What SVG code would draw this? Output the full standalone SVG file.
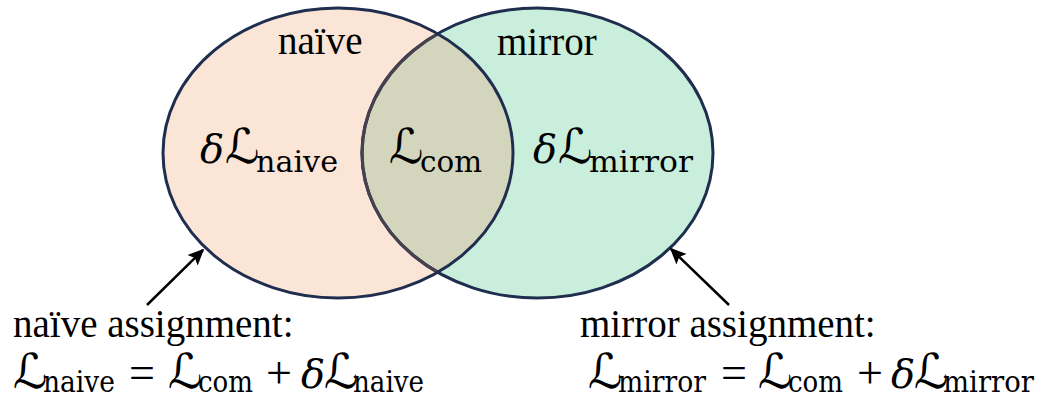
<svg xmlns="http://www.w3.org/2000/svg" width="1038" height="399" viewBox="0 0 1038 399">
<style>
.lbl{font-family:"Liberation Serif","Times New Roman",serif;font-size:39px;fill:#000}
.sym{font-family:"DejaVu Serif","DejaVu Sans",serif;font-size:48px;fill:#000}
.dl{font-family:"DejaVu Serif",serif;font-style:italic;font-size:40px;fill:#000}
.sub{font-family:"DejaVu Serif",serif;font-size:30px;fill:#000}
.op{font-family:"Liberation Serif",serif;font-size:46px;fill:#000}
.edge{stroke:#1f2d4e;stroke-width:3;}
.arr{stroke:#000;stroke-width:2.5;fill:none;marker-end:url(#ah)}
</style>
<defs>
<marker id="ah" viewBox="0 0 10 10" refX="9" refY="5" markerWidth="6.5" markerHeight="6.5" orient="auto" markerUnits="strokeWidth">
<path d="M0,0.5 L10,5 L0,9.5 L2,5 z" fill="#000"/>
</marker>
<clipPath id="clipL"><ellipse cx="338" cy="153" rx="175" ry="145"/></clipPath>
</defs>
<rect width="1038" height="399" fill="#fff"/>
<g id="naive-set">
<ellipse cx="338" cy="153" rx="175" ry="145" fill="#fbe5d6"/>
</g>
<g id="mirror-set">
<ellipse cx="537.5" cy="153" rx="175.5" ry="145" fill="#c9eedb"/>
</g>
<g id="common">
<ellipse cx="537.5" cy="153" rx="175.5" ry="145" fill="#d3d6bc" clip-path="url(#clipL)"/>
</g>
<g id="outlines">
<ellipse cx="537.5" cy="153" rx="175.5" ry="145" fill="none" class="edge"/>
<ellipse cx="537.5" cy="153" rx="175.5" ry="145" fill="none" stroke="#47414f" stroke-width="3.2" clip-path="url(#clipL)"/>
<ellipse cx="338" cy="153" rx="175" ry="145" fill="none" class="edge"/>
</g>
<g id="set-labels">
<text class="lbl" x="278" y="54">naïve</text>
<text class="lbl" x="497" y="55">mirror</text>
</g>
<g id="region-labels">
<text class="dl" x="200" y="163">δ</text><text class="sym" x="225" y="163">ℒ</text><text class="sub" x="256" y="172" textLength="82" lengthAdjust="spacingAndGlyphs">naive</text>
<text class="sym" x="389" y="163">ℒ</text><text class="sub" x="420" y="172" textLength="62" lengthAdjust="spacingAndGlyphs">com</text>
<text class="dl" x="533" y="163">δ</text><text class="sym" x="558" y="163">ℒ</text><text class="sub" x="589" y="172" textLength="104" lengthAdjust="spacingAndGlyphs">mirror</text>
</g>
<g id="connectors">
<line class="arr" x1="147" y1="305" x2="203" y2="250"/>
<line class="arr" x1="729" y1="305" x2="671" y2="249"/>
</g>
<g id="naive-note">
<text class="lbl" x="13" y="337">naïve assignment:</text>
<text class="sym" x="13" y="388">ℒ</text><text class="sub" x="43" y="392" textLength="72" lengthAdjust="spacingAndGlyphs">naive</text>
<text class="op" x="129" y="388">=</text>
<text class="sym" x="168" y="388">ℒ</text><text class="sub" x="198" y="392" textLength="55" lengthAdjust="spacingAndGlyphs">com</text>
<text class="op" x="266" y="388">+</text>
<text class="dl" x="301" y="388">δ</text><text class="sym" x="324" y="388">ℒ</text><text class="sub" x="353" y="392" textLength="71" lengthAdjust="spacingAndGlyphs">naive</text>
</g>
<g id="mirror-note">
<text class="lbl" x="580" y="337">mirror assignment:</text>
<text class="sym" x="588" y="388">ℒ</text><text class="sub" x="618" y="392" textLength="88" lengthAdjust="spacingAndGlyphs">mirror</text>
<text class="op" x="721" y="388">=</text>
<text class="sym" x="758" y="388">ℒ</text><text class="sub" x="788" y="392" textLength="55" lengthAdjust="spacingAndGlyphs">com</text>
<text class="op" x="857" y="388">+</text>
<text class="dl" x="891" y="388">δ</text><text class="sym" x="914" y="388">ℒ</text><text class="sub" x="943" y="392" textLength="91" lengthAdjust="spacingAndGlyphs">mirror</text>
</g>
</svg>
